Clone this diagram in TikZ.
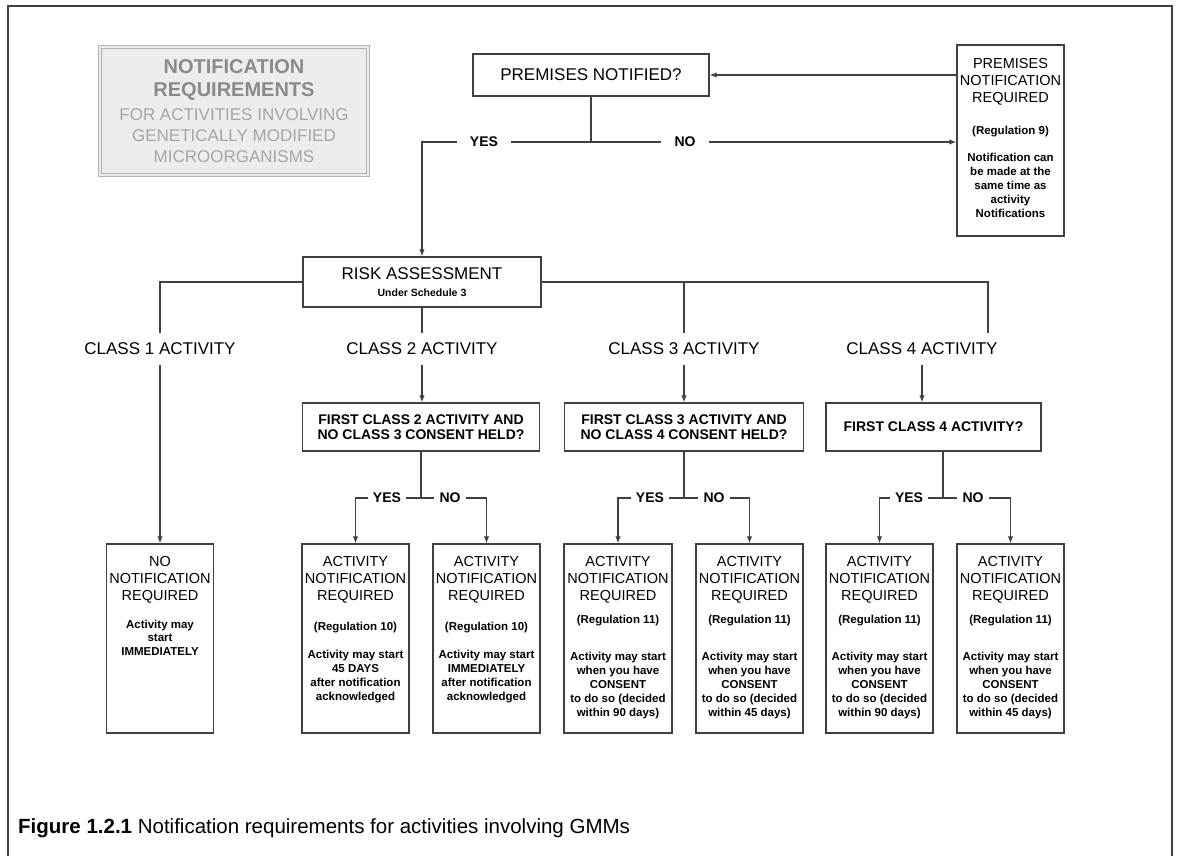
\documentclass[tikz,border=0pt]{standalone}
\usepackage{fontspec}
\setmainfont{Liberation Sans}
\usetikzlibrary{arrows.meta}
\definecolor{ln}{HTML}{404040}
\definecolor{tgd}{HTML}{8A8A8A}
\definecolor{tgl}{HTML}{A6A6A6}
\definecolor{tfill}{HTML}{ECECEC}
\newcommand{\hdrf}{\fontsize{14.5}{17}\selectfont}
\newcommand{\smlf}{\fontsize{11.5}{14}\selectfont\bfseries}
\newcommand{\bxt}[3]{\parbox[c][#1][t]{#2}{\centering #3}}
\begin{document}
\begin{tikzpicture}[x=1pt,y=-1pt,
  conn/.style={draw=ln, line width=1.2pt},
  arr/.style={conn, -{Latex[length=7pt,width=5.5pt]}},
  bx/.style={draw=ln, line width=1.3pt, inner sep=0pt, fill=white},
  qbox/.style={bx, align=center, font=\fontsize{14}{15.5}\selectfont\bfseries, minimum height=48pt},
  lbl/.style={inner xsep=5pt, inner ysep=2pt, font=\fontsize{14}{16}\selectfont\bfseries},
  toplbl/.style={lbl, inner xsep=13pt},
  cls/.style={inner xsep=3pt, inner ysep=10pt, font=\fontsize{17}{20}\selectfont},
  titlebox/.style={draw=gray!60, line width=1.1pt, double=gray!15, double distance=1.4pt, fill=tfill, inner sep=0pt}
]
\useasboundingbox (0,0) rectangle (1181,856);
\fill[white] (0,0) rectangle (1181,856);
\draw[ln, line width=1.5pt] (8,870) -- (8,6) -- (1172,6) -- (1172,870);

% title box
\node[titlebox] (tb) at (234,111) {\bxt{128pt}{268pt}{\vspace*{12.5pt}{\fontsize{20}{23}\selectfont\bfseries\color{tgd}NOTIFICATION\\REQUIREMENTS\par}\vspace{3pt}{\fontsize{17}{21}\selectfont\color{tgl}FOR ACTIVITIES INVOLVING\\GENETICALLY MODIFIED\\MICROORGANISMS\par}}};

% premises
\node[bx, minimum width=236pt, minimum height=42pt, font=\fontsize{17}{20}\selectfont] (pn) at (591,75) {PREMISES NOTIFIED?};
\node[bx] (pnr) at (1010.5,140.5) {\bxt{191pt}{107pt}{\vspace*{13.4pt}{\hdrf PREMISES\\NOTIFICATION\\REQUIRED\par}\vspace{18pt}{\smlf (Regulation 9)\par}\vspace{13pt}{\smlf Notification can\\be made at the\\same time as\\activity\\Notifications\par}}};

\coordinate (jt) at (591,142);
\node[toplbl] (yes0) at (484,142) {YES};
\node[toplbl] (no0) at (685,142) {NO};
\draw[conn] (pn.south) -- (jt);
\draw[conn] (jt) -- (yes0.east);
\draw[conn] (jt) -- (no0.west);
\draw[arr] (no0.east) -- (no0.east -| pnr.west);
\draw[arr] (pnr.west |- pn.east) -- (pn.east);

% risk assessment
\node[bx] (ra) at (422,282) {\bxt{50pt}{238pt}{\vspace*{10.6pt}{\fontsize{17}{20}\selectfont RISK ASSESSMENT\par}\vspace{4pt}{\fontsize{10.5}{13}\selectfont\bfseries Under Schedule 3\par}}};
\draw[arr] (yes0.west) -| (ra.north);

% class labels
\node[cls] (c1) at (160,349) {CLASS 1 ACTIVITY};
\node[cls] (c2) at (422,349) {CLASS 2 ACTIVITY};
\node[cls] (c3) at (684,349) {CLASS 3 ACTIVITY};
\node[cls] (c4) at (922,349) {CLASS 4 ACTIVITY};
\coordinate (b1) at (160,282);
\coordinate (b3) at (684,282);
\coordinate (b4) at (988,282);
\draw[conn] (ra.west) -- (b1) -- (c1.north);
\draw[conn] (ra.east) -- (b4) -- (b4 |- c4.north);
\draw[conn] (b3) -- (c3.north);
\draw[conn] (ra.south) -- (c2.north);

% question boxes
\node[qbox, minimum width=237pt] (f2) at (421,427) {FIRST CLASS 2 ACTIVITY AND\\NO CLASS 3 CONSENT HELD?};
\node[qbox, minimum width=239pt] (f3) at (684,427) {FIRST CLASS 3 ACTIVITY AND\\NO CLASS 4 CONSENT HELD?};
\node[qbox, minimum width=215pt] (f4) at (933.5,427) {FIRST CLASS 4 ACTIVITY?};
\draw[arr] (c2.south) -- (c2.south |- f2.north);
\draw[arr] (c3.south) -- (c3.south |- f3.north);
\draw[arr] (c4.south) -- (c4.south |- f4.north);

% result boxes
\node[bx] (a1) at (160,638.5) {\bxt{189pt}{107pt}{\vspace*{12.4pt}{\hdrf NO\\NOTIFICATION\\REQUIRED\par}\vspace{14pt}{\fontsize{11.5}{13.5}\selectfont\bfseries Activity may\\start\\IMMEDIATELY\par}}};
\node[bx] (a2y) at (355.5,638.5) {\bxt{189pt}{107pt}{\vspace*{12.4pt}{\hdrf ACTIVITY\\NOTIFICATION\\REQUIRED\par}\vspace{16pt}{\smlf (Regulation 10)\par}\vspace{14pt}{\smlf Activity may start\\45 DAYS\\after notification\\acknowledged\par}}};
\node[bx] (a2n) at (486.5,638.5) {\bxt{189pt}{107pt}{\vspace*{12.4pt}{\hdrf ACTIVITY\\NOTIFICATION\\REQUIRED\par}\vspace{16pt}{\smlf (Regulation 10)\par}\vspace{14pt}{\smlf Activity may start\\IMMEDIATELY\\after notification\\acknowledged\par}}};
\node[bx] (a3y) at (618,638.5) {\bxt{189pt}{108pt}{\vspace*{12.4pt}{\hdrf ACTIVITY\\NOTIFICATION\\REQUIRED\par}\vspace{9pt}{\smlf (Regulation 11)\par}\vspace{23pt}{\smlf Activity may start\\when you have\\CONSENT\\to do so (decided\\within 90 days)\par}}};
\node[bx] (a3n) at (749.5,638.5) {\bxt{189pt}{107pt}{\vspace*{12.4pt}{\hdrf ACTIVITY\\NOTIFICATION\\REQUIRED\par}\vspace{9pt}{\smlf (Regulation 11)\par}\vspace{23pt}{\smlf Activity may start\\when you have\\CONSENT\\to do so (decided\\within 45 days)\par}}};
\node[bx] (a4y) at (879.5,638.5) {\bxt{189pt}{107pt}{\vspace*{12.4pt}{\hdrf ACTIVITY\\NOTIFICATION\\REQUIRED\par}\vspace{9pt}{\smlf (Regulation 11)\par}\vspace{23pt}{\smlf Activity may start\\when you have\\CONSENT\\to do so (decided\\within 90 days)\par}}};
\node[bx] (a4n) at (1010.5,638.5) {\bxt{189pt}{107pt}{\vspace*{12.4pt}{\hdrf ACTIVITY\\NOTIFICATION\\REQUIRED\par}\vspace{9pt}{\smlf (Regulation 11)\par}\vspace{23pt}{\smlf Activity may start\\when you have\\CONSENT\\to do so (decided\\within 45 days)\par}}};

\draw[arr] (c1.south) -- (a1.north);

% yes / no branches
\coordinate (j2) at (421,498);
\coordinate (j3) at (684,498);
\coordinate (j4) at (943,498);
\node[lbl] (y2) at (387,498) {YES};
\node[lbl] (n2) at (450,498) {NO};
\node[lbl] (y3) at (650,498) {YES};
\node[lbl] (n3) at (714,498) {NO};
\node[lbl] (y4) at (909,498) {YES};
\node[lbl] (n4) at (973,498) {NO};
\draw[conn] (f2.south) -- (j2);
\draw[conn] (f3.south) -- (j3);
\draw[conn] (j4 |- f4.south) -- (j4);
\draw[conn] (j2) -- (y2.east);
\draw[conn] (j2) -- (n2.west);
\draw[conn] (j3) -- (y3.east);
\draw[conn] (j3) -- (n3.west);
\draw[conn] (j4) -- (y4.east);
\draw[conn] (j4) -- (n4.west);
\draw[arr] (y2.west) -| (a2y.north);
\draw[arr] (n2.east) -| (a2n.north);
\draw[arr] (y3.west) -| (a3y.north);
\draw[arr] (n3.east) -| (a3n.north);
\draw[arr] (y4.west) -| (a4y.north);
\draw[arr] (n4.east) -| (a4n.north);

% caption
\node[anchor=west, inner sep=0pt, font=\fontsize{20.5}{24}\selectfont] (cap) at (18,828) {\textbf{Figure 1.2.1} Notification requirements for activities involving GMMs};
\end{tikzpicture}
\end{document}
